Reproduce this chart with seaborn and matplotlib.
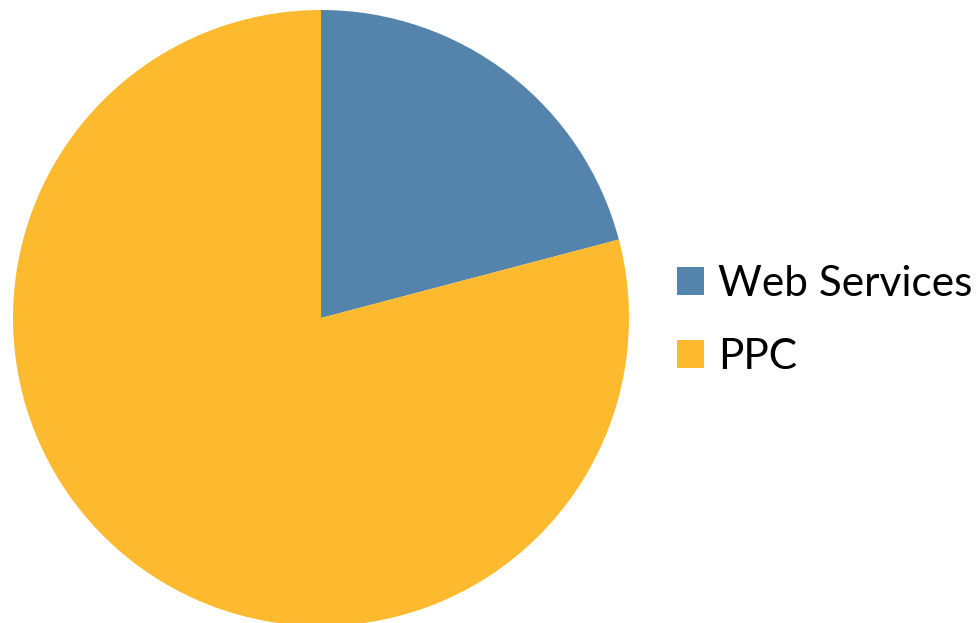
import matplotlib
matplotlib.use("Agg")
import matplotlib.pyplot as plt
import seaborn as sns
from matplotlib.patches import Patch

categories = ["Web Services", "PPC"]
values = [20.9, 79.1]
colors = ["#5483AC", "#FDBA2F"]

sns.set_theme(style="white")
plt.rcParams['font.family'] = ['Lato', 'DejaVu Sans']

W, H = 978, 623
fig = plt.figure(figsize=(W / 100, H / 100), dpi=100)
ax = fig.add_axes([13 / W, -3 / H, 616 / W, 616 / H])
palette = sns.color_palette(colors)
ax.pie(values, colors=palette, startangle=90, counterclock=False, radius=1,
       wedgeprops=dict(linewidth=0))
ax.set_xlim(-1, 1)
ax.set_ylim(-1, 1)
ax.set_aspect('equal')
ax.axis('off')

handles = [Patch(facecolor=c, edgecolor='none') for c in palette]
fs = 30.5
leg = fig.legend(handles, categories, loc='upper left',
                 bbox_to_anchor=(677 / W, 1 - 265 / H), frameon=False,
                 fontsize=fs, handlelength=0.64, handleheight=0.64,
                 handletextpad=0.33, labelspacing=0.82, borderpad=0, borderaxespad=0,
                 labelcolor='black')

fig.savefig("out.png", dpi=100)
